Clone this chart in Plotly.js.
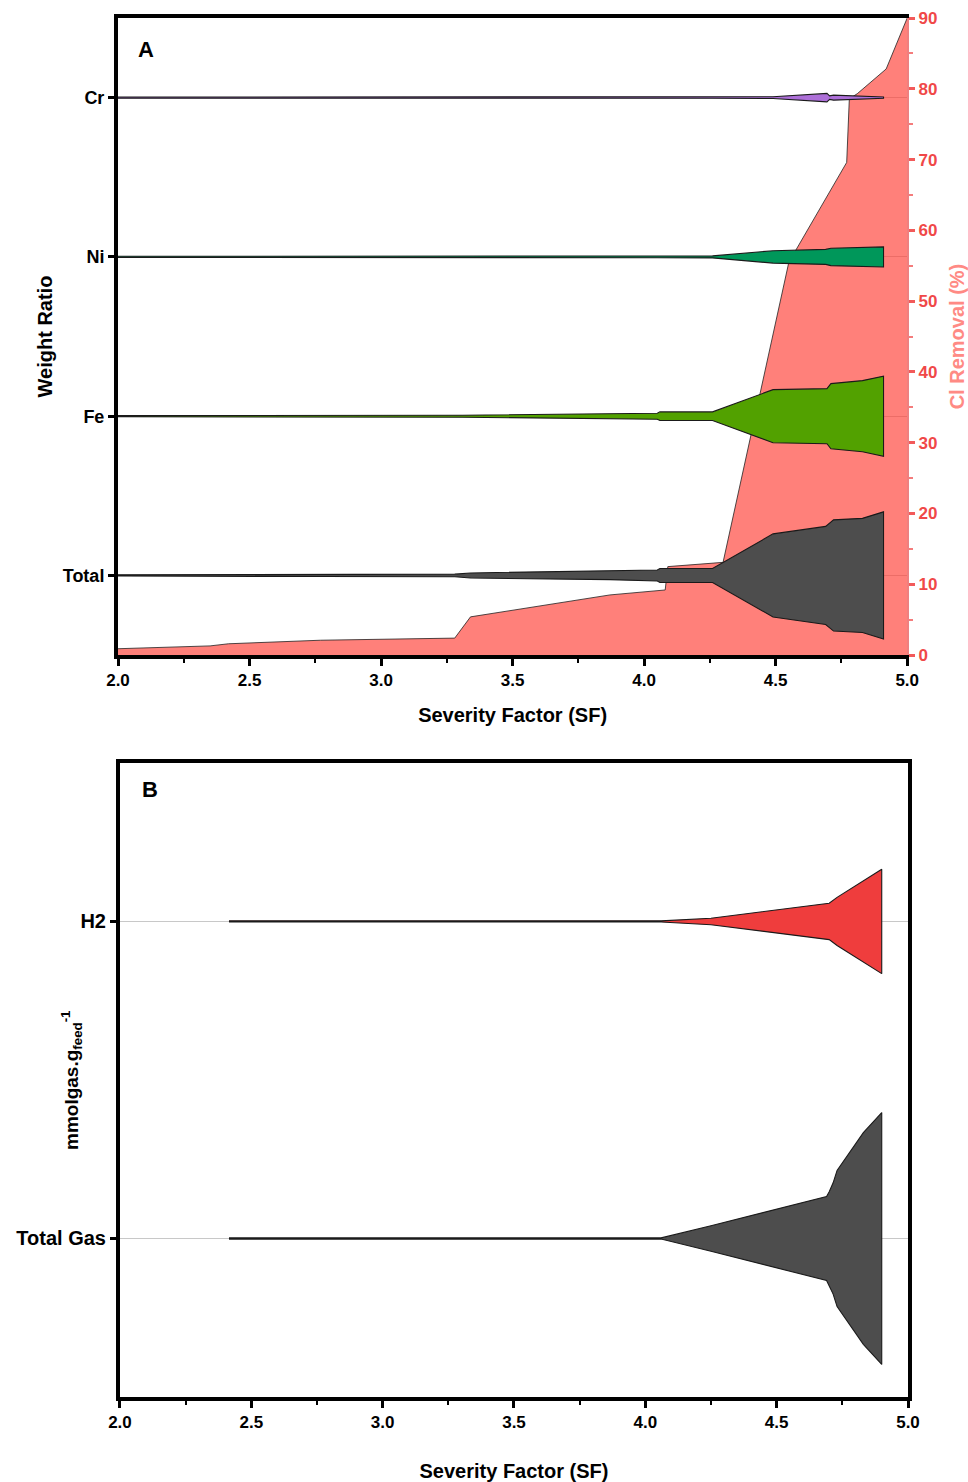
<!DOCTYPE html>
<html>
<head>
<meta charset="utf-8">
<script src="https://cdn.plot.ly/plotly-3.0.1.min.js"></script>
<style>html,body{margin:0;padding:0;background:#fff;}#chart{width:968px;height:1482px;}</style>
</head>
<body>
<div id="chart"></div>
<script>
// ---------- Panel A data ----------
const elementsA = ['Total', 'Fe', 'Ni', 'Cr'];
const tickLabelsX = ['2.0', '2.5', '3.0', '3.5', '4.0', '4.5', '5.0'];
const tickValsX = [2.0, 2.5, 3.0, 3.5, 4.0, 4.5, 5.0];

// Cl removal (%) vs severity factor
const clSF = [2.0, 2.35, 2.42, 2.77, 3.28, 3.34, 3.87, 4.08, 4.09, 4.30, 4.55, 4.77, 4.78, 4.81, 4.92, 5.0];
const clRemoval = [0.9, 1.3, 1.6, 2.1, 2.4, 5.4, 8.5, 9.2, 12.5, 13.1, 55.5, 69.6, 78.6, 79.3, 82.8, 90];

// Weight ratio (relative violin half-width) vs severity factor
const totalSF = [2.0, 2.42, 2.77, 3.28, 3.34, 3.87, 4.05, 4.06, 4.26, 4.49, 4.69, 4.72, 4.83, 4.91];
const totalW  = [0.6, 0.7, 1.0, 1.3, 2.5, 4.2, 5.5, 7.0, 7.0, 41.5, 49.0, 55.5, 57.0, 63.5];
const feSF = [2.0, 3.31, 4.05, 4.06, 4.26, 4.49, 4.695, 4.71, 4.83, 4.91];
const feW  = [0.6, 1.0, 3.0, 4.3, 4.3, 26.5, 27.5, 32.5, 35.5, 40.0];
const niSF = [2.0, 4.05, 4.26, 4.49, 4.69, 4.71, 4.83, 4.91];
const niW  = [0.6, 0.8, 1.0, 6.2, 7.5, 8.7, 9.2, 10.0];
const crSF = [2.0, 4.26, 4.49, 4.695, 4.705, 4.72, 4.83, 4.91];
const crW  = [0.6, 0.6, 0.9, 4.2, 1.8, 2.5, 1.3, 0.7];

// ---------- Panel B data ----------
const gasesB = ['Total Gas', 'H2'];
const totalGasSF = [2.415, 4.06, 4.25, 4.69, 4.70, 4.715, 4.73, 4.83, 4.90];
const totalGasW  = [0.6, 0.6, 12.8, 42.3, 47.0, 56.0, 68.5, 106.5, 126.7];
const h2SF = [2.415, 4.06, 4.25, 4.70, 4.73, 4.90];
const h2W  = [0.6, 0.6, 3.3, 18.3, 24.2, 52.5];

// ---------- styling ----------
const FONT = 'Liberation Sans, Arial, Helvetica, sans-serif';
const scaleA = 1 / 159;   // violin width scale in panel A (category units)
const scaleB = 1 / 319;   // violin width scale in panel B

function violin(sf, w, center, scale, color, xa, ya) {
  const xs = sf.concat(sf.slice().reverse());
  const up = w.map(v => center + v * scale);
  const dn = w.map(v => center - v * scale).reverse();
  return {
    type: 'scatter', mode: 'lines', x: xs, y: up.concat(dn),
    fill: 'toself', fillcolor: color,
    line: {color: '#1a1a1a', width: 1.1},
    xaxis: xa, yaxis: ya, hoverinfo: 'skip', showlegend: false
  };
}

const traces = [
  {
    type: 'scatter', mode: 'lines', x: clSF, y: clRemoval,
    fill: 'tozeroy', fillcolor: 'rgba(255,60,50,0.65)',
    line: {color: '#222', width: 0.8},
    xaxis: 'x', yaxis: 'y', hoverinfo: 'skip', showlegend: false
  },
  violin(totalSF, totalW, elementsA.indexOf('Total'), scaleA, '#4d4d4d', 'x', 'y3'),
  violin(feSF, feW, elementsA.indexOf('Fe'), scaleA, '#52a100', 'x', 'y3'),
  violin(niSF, niW, elementsA.indexOf('Ni'), scaleA, '#00975a', 'x', 'y3'),
  violin(crSF, crW, elementsA.indexOf('Cr'), scaleA, '#ad6fd8', 'x', 'y3'),
  violin(totalGasSF, totalGasW, gasesB.indexOf('Total Gas'), scaleB, '#4d4d4d', 'x2', 'y2'),
  violin(h2SF, h2W, gasesB.indexOf('H2'), scaleB, '#ef3d3d', 'x2', 'y2')
];

const tickFont = {family: FONT, size: 17, color: '#000', weight: 700};
const catFontA = {family: FONT, size: 18, color: '#000', weight: 700};
const titleFont = {family: FONT, size: 20, color: '#000', weight: 700};

function xAxis(domain, anchor, standoff) {
  return {
    domain: domain, anchor: anchor, range: [2, 5],
    tickmode: 'array', tickvals: tickValsX, ticktext: tickLabelsX,
    ticks: 'outside', ticklen: 7, tickwidth: 3, tickcolor: '#000',
    minor: {tickmode: 'linear', tick0: 2, dtick: 0.25, ticks: 'outside', ticklen: 4, tickwidth: 2, tickcolor: '#000', showgrid: false},
    showline: true, linewidth: 4, linecolor: '#000', mirror: true,
    showgrid: false, zeroline: false, tickfont: tickFont,
    title: {text: 'Severity Factor (SF)', font: titleFont, standoff: standoff}
  };
}

const layout = {
  width: 968, height: 1482,
  margin: {l: 118, r: 60, t: 18, b: 85},
  paper_bgcolor: '#fff', plot_bgcolor: 'rgba(0,0,0,0)',
  showlegend: false,
  xaxis: xAxis([0, 0.999], 'y', 20),
  yaxis: {
    domain: [0.538, 1], anchor: 'x', side: 'right', range: [0, 90],
    tickmode: 'linear', tick0: 0, dtick: 10,
    ticks: 'outside', ticklen: 6, tickwidth: 3, tickcolor: '#f25a5a',
    minor: {tickmode: 'linear', tick0: 5, dtick: 10, ticks: 'outside', ticklen: 4, tickwidth: 2, tickcolor: '#f47c7c', showgrid: false},
    showline: true, linewidth: 2, linecolor: '#ee8080',
    showgrid: false, zeroline: false,
    tickfont: {family: FONT, size: 17, color: '#f04848', weight: 700},
    title: {text: 'Cl Removal (%)', font: {family: FONT, size: 20, color: '#ff8a84', weight: 700}, standoff: 13}
  },
  yaxis3: {
    overlaying: 'y', anchor: 'x', side: 'left', range: [-0.5, 3.5],
    tickmode: 'array', tickvals: elementsA.map((_, i) => i), ticktext: elementsA,
    ticks: 'outside', ticklen: 6, tickwidth: 3, tickcolor: '#000',
    showline: true, linewidth: 4, linecolor: '#000',
    showgrid: true, gridcolor: '#c8c8c8', gridwidth: 1, zeroline: false,
    tickfont: catFontA,
    title: {text: 'Weight Ratio', font: titleFont, standoff: 6}
  },
  xaxis2: xAxis([0.0025, 1], 'y2', 40),
  yaxis2: {
    domain: [0, 0.4598], anchor: 'x2', range: [-0.5, 1.5],
    tickmode: 'array', tickvals: gasesB.map((_, i) => i), ticktext: gasesB,
    ticks: 'outside', ticklen: 6, tickwidth: 3, tickcolor: '#000',
    showline: true, linewidth: 4, linecolor: '#000', mirror: true,
    showgrid: true, gridcolor: '#c8c8c8', gridwidth: 1, zeroline: false,
    tickfont: {family: FONT, size: 20, color: '#000', weight: 700}
  },
  annotations: [
    {text: 'A', xref: 'paper', yref: 'paper', x: 0.0354, y: 0.9768, xanchor: 'center', yanchor: 'middle', showarrow: false,
     font: {family: FONT, size: 22, color: '#000', weight: 700}},
    {text: 'B', xref: 'paper', yref: 'paper', x: 0.0405, y: 0.4402, xanchor: 'center', yanchor: 'middle', showarrow: false,
     font: {family: FONT, size: 22, color: '#000', weight: 700}},
    {text: 'mmolgas.g<sub>feed</sub><sup>-1</sup>', xref: 'paper', yref: 'paper',
     x: -0.0582, y: 0.2299, xanchor: 'center', yanchor: 'middle', textangle: -90, showarrow: false,
     font: {family: FONT, size: 19, color: '#000', weight: 700}}
  ]
};

Plotly.newPlot('chart', traces, layout, {staticPlot: true, displayModeBar: false});
</script>
</body>
</html>
